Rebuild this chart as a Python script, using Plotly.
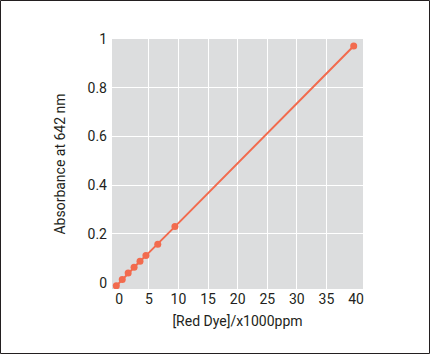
import plotly.graph_objects as go

# Data
conc = [-0.5, 0.5, 1.5, 2.5, 3.5, 4.5, 6.5, 9.4, 39.6]
absorbance = [-0.013, 0.013, 0.040, 0.063, 0.088, 0.111, 0.158, 0.230, 0.971]

x_ticks = [0, 5, 10, 15, 20, 25, 30, 35, 40]
x_grid = [5, 10, 15, 20, 25, 30, 35]
y_ticks = [0, 0.2, 0.4, 0.6, 0.8, 1]
y_grid = [0.2, 0.4, 0.6, 0.8]

x_range = [-1.23, 41.17]
y_range = [-0.026, 1.0]

color = "#F26B4E"
font = dict(family="Roboto, Open Sans, sans-serif", size=14, color="#231f20")

fig = go.Figure()
# invisible trace to make the grid axes render
fig.add_trace(go.Scatter(x=[x_range[0]], y=[y_range[0]], mode="markers",
                         marker=dict(opacity=0), showlegend=False,
                         hoverinfo="skip", xaxis="x", yaxis="y"))
fig.add_trace(go.Scatter(
    x=conc, y=absorbance, mode="lines+markers",
    line=dict(color=color, width=2),
    marker=dict(color=color, size=7),
    xaxis="x2", yaxis="y2", showlegend=False, hoverinfo="skip",
))

fig.update_layout(
    width=430, height=354,
    margin=dict(l=112, r=67, t=39, b=65),
    paper_bgcolor="white",
    plot_bgcolor="#DCDDDE",
    font=font,
    xaxis=dict(range=x_range, tickvals=x_grid, showticklabels=False,
               showgrid=True, gridcolor="white", gridwidth=1.3,
               zeroline=False, showline=False, ticks=""),
    yaxis=dict(range=y_range, tickvals=y_grid, showticklabels=False,
               showgrid=True, gridcolor="white", gridwidth=1.3,
               zeroline=False, showline=False, ticks=""),
    xaxis2=dict(range=x_range, tickvals=x_ticks, overlaying="x", side="bottom",
                anchor="y2", showgrid=False, zeroline=False, showline=False,
                ticks="", ticklabelstandoff=0,
                title=dict(text="[Red Dye]/x1000ppm", font=font, standoff=10)),
    yaxis2=dict(range=y_range, tickvals=y_ticks, overlaying="y", side="left",
                anchor="x2", showgrid=False, zeroline=False, showline=False,
                ticks="", ticklabelstandoff=4,
                title=dict(text="Absorbance at 642 nm", font=font, standoff=18)),
)

# outer frame around the whole picture
fig.add_shape(type="rect", xref="paper", yref="paper",
              x0=(0.5 - 112) / 251, x1=(429.5 - 112) / 251,
              y0=(289 - 353.5) / 250, y1=(289 - 0.5) / 250,
              line=dict(color="#231f20", width=1), layer="above")

fig.write_html("out.html")
